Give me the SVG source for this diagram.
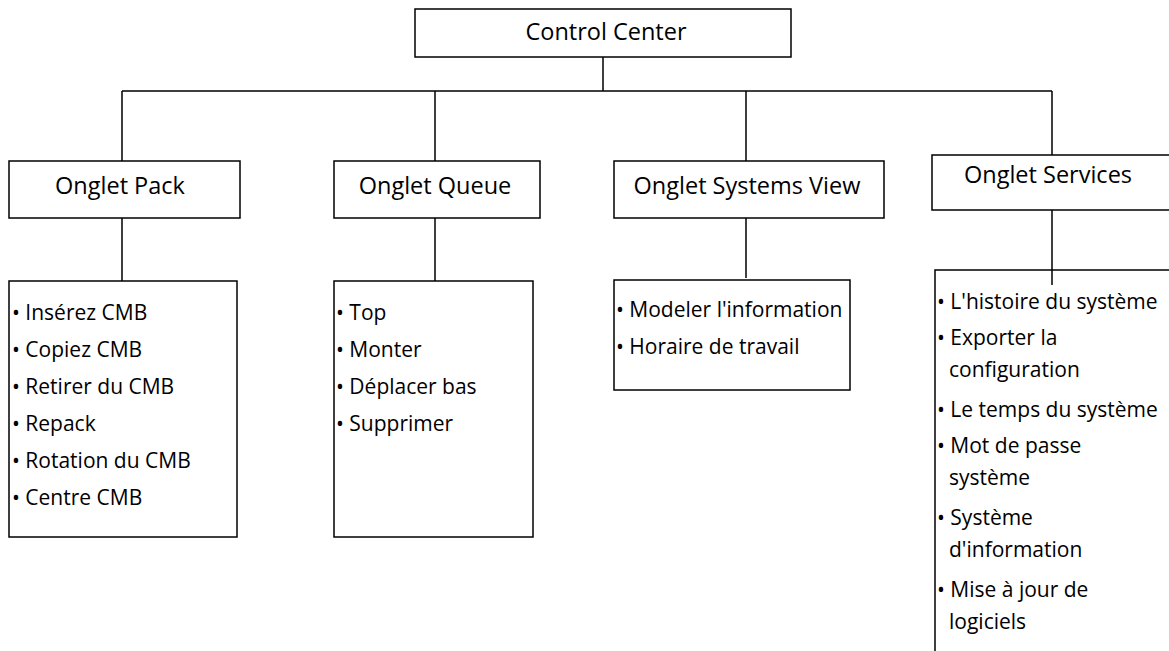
<svg xmlns="http://www.w3.org/2000/svg" width="1169" height="651" viewBox="0 0 1169 651">
  <style>
    .box { fill: #ffffff; stroke: #000000; stroke-width: 1.5; }
    .wire { fill: none; stroke: #000000; stroke-width: 1.5; }
    .title { font-family: "Open Sans", "Liberation Sans", sans-serif; font-size: 23.5px; fill: #000000; text-anchor: middle; }
    .item { font-family: "Open Sans", "Liberation Sans", sans-serif; font-size: 21px; fill: #000000; }
  </style>
  <rect width="1169" height="651" fill="#ffffff"/>

  <!-- tree connectors -->
  <g id="connectors">
    <path class="wire" d="M603 57 V91 M122 91 H1052 M122 91 V161 M435 91 V161 M746 91 V161 M1052 91 V155"/>
    <path class="wire" d="M122 218 V281 M435 218 V281 M746 218 V278 M1052 210 V285"/>
  </g>

  <g id="control-center">
    <rect class="box" x="415" y="9" width="376" height="48"/>
    <text class="title" x="606" y="40">Control Center</text>
  </g>

  <g id="onglet-pack">
    <rect class="box" x="9" y="161" width="231" height="57"/>
    <text class="title" x="120" y="194">Onglet Pack</text>
  </g>
  <g id="onglet-queue">
    <rect class="box" x="334" y="161" width="206" height="57"/>
    <text class="title" x="435" y="194">Onglet Queue</text>
  </g>
  <g id="onglet-systems-view">
    <rect class="box" x="614" y="161" width="270" height="57"/>
    <text class="title" x="747" y="194">Onglet Systems View</text>
  </g>
  <g id="onglet-services">
    <rect class="box" x="932" y="155" width="245" height="55"/>
    <text class="title" x="1048" y="183">Onglet Services</text>
  </g>

  <g id="pack-items">
    <rect class="box" x="9" y="281" width="228" height="256"/>
    <text class="item" x="12" y="320">• Insérez CMB</text>
    <text class="item" x="12" y="357">• Copiez CMB</text>
    <text class="item" x="12" y="394">• Retirer du CMB</text>
    <text class="item" x="12" y="431">• Repack</text>
    <text class="item" x="12" y="468">• Rotation du CMB</text>
    <text class="item" x="12" y="505">• Centre CMB</text>
  </g>

  <g id="queue-items">
    <rect class="box" x="334" y="281" width="199" height="256"/>
    <text class="item" x="336" y="320">• Top</text>
    <text class="item" x="336" y="357">• Monter</text>
    <text class="item" x="336" y="394">• Déplacer bas</text>
    <text class="item" x="336" y="431">• Supprimer</text>
  </g>

  <g id="systems-view-items">
    <rect class="box" x="614" y="280" width="236" height="110"/>
    <text class="item" x="616" y="317">• Modeler l'information</text>
    <text class="item" x="616" y="354">• Horaire de travail</text>
  </g>

  <g id="services-items">
    <path class="wire" d="M935 660 V270 H1175"/>
    <text class="item" x="937" y="309">• L'histoire du système</text>
    <text class="item" x="937" y="345">• Exporter la</text>
    <text class="item" x="949" y="377">configuration</text>
    <text class="item" x="937" y="417">• Le temps du système</text>
    <text class="item" x="937" y="453">• Mot de passe</text>
    <text class="item" x="949" y="485">système</text>
    <text class="item" x="937" y="525">• Système</text>
    <text class="item" x="949" y="557">d'information</text>
    <text class="item" x="937" y="597">• Mise à jour de</text>
    <text class="item" x="949" y="629">logiciels</text>
  </g>
</svg>
